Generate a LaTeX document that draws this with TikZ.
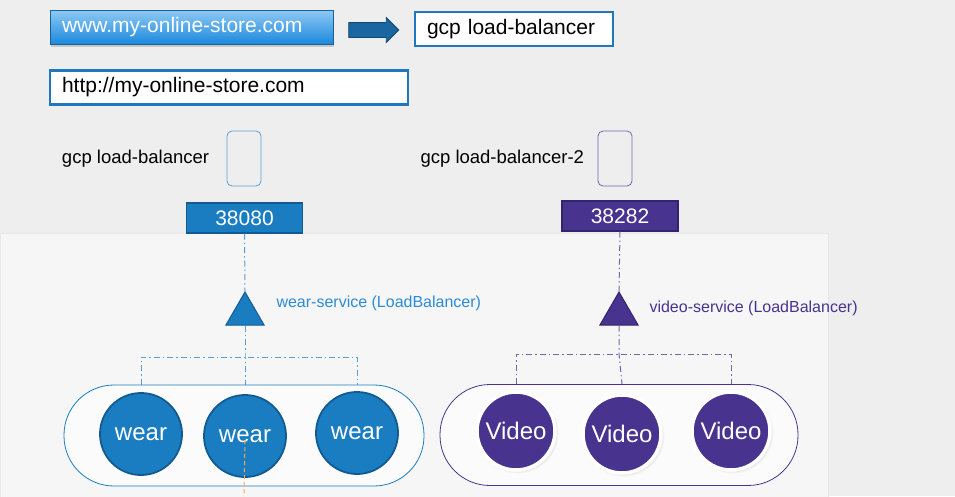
\documentclass[tikz,border=0pt]{standalone}
\usepackage{fontspec}
\setmainfont{Liberation Sans}
\usetikzlibrary{positioning, shapes.geometric, shapes.arrows, shadows}
\definecolor{canvas}{HTML}{EEEEEE}
\definecolor{panelbg}{HTML}{F6F6F6}
\definecolor{urlblue}{HTML}{1F78BD}
\definecolor{gradtop}{HTML}{8CC8F4}
\definecolor{gradbot}{HTML}{1A88DC}
\definecolor{wearblue}{HTML}{1A7DC1}
\definecolor{weardark}{HTML}{125A92}
\definecolor{wearline}{HTML}{5A9FD4}
\definecolor{wearlabel}{HTML}{2C8BD4}
\definecolor{vidpurple}{HTML}{48338F}
\definecolor{viddark}{HTML}{33226E}
\definecolor{vidline}{HTML}{7466B0}
\newcommand{\fs}[1]{\fontsize{#1}{#1}\selectfont}

\begin{document}
\begin{tikzpicture}[
    x=1pt, y=-1pt,
    every node/.style={font=\fs{18.5}},
    url/.style   ={draw=urlblue, line width=2.2pt, fill=white, text=black,
                   font=\fs{21}, inner xsep=12pt, align=left,
                   minimum height=34pt},
    dns/.style   ={url, draw=urlblue!80!black, line width=0.6pt,
                   top color=gradtop, bottom color=gradbot,
                   text=white, drop shadow={opacity=0.35, shadow xshift=1pt, shadow yshift=-2pt}},
    lbbox/.style ={draw, rounded corners=5pt, line width=0.8pt,
                   minimum width=34pt, minimum height=55pt, inner sep=0pt},
    port/.style  ={draw, line width=1.2pt, text=white, font=\fs{21},
                   minimum width=116pt, minimum height=30pt, inner sep=0pt},
    svc/.style   ={draw, regular polygon, regular polygon sides=3,
                   minimum size=44pt, inner sep=0pt, line width=1pt},
    pill/.style  ={draw, line width=0.8pt, fill=white!60!panelbg,
                   rounded corners=50pt, minimum height=101pt},
    wearpod/.style ={circle, fill=wearblue, draw=weardark, line width=1.8pt,
                   minimum size=82pt, inner sep=0pt, text=white, font=\fs{24}},
    videopod/.style={circle, fill=vidpurple, draw=white, line width=3.5pt,
                   minimum size=78pt, inner sep=0pt, text=white, font=\fs{24},
                   circular drop shadow={opacity=0.3, shadow scale=1.05}},
    link/.style  ={line width=1pt, dash pattern=on 6pt off 3pt on 1.5pt off 3pt},
]
\useasboundingbox[fill=canvas] (0,0) rectangle (955,496);
\fill[panelbg, draw=gray!18] (0,233) rectangle (828,497);

\node[dns, text width=259pt] (www) at (191.5,27.5) {www.my-online-store.com};
\node[single arrow, fill=urlblue!85!black, draw=urlblue!60!black, line width=0.8pt,
      minimum height=50pt, inner xsep=0pt, inner ysep=7pt,
      single arrow head extend=5pt] (fwd) at (370,30) {};
\node[url, text width=174pt] (gcp) at (514,29) {gcp load-balancer};
\node[url, text width=334pt] (http) at (229,87.5) {http://my-online-store.com};

\node[lbbox, draw=wearline] (lb1) at (244,158.5) {};
\node[left=14pt of lb1] (lb1txt) {gcp load-balancer};
\node[lbbox, draw=vidline] (lb2) at (615,158.5) {};
\node[left=10pt of lb2] (lb2txt) {gcp load-balancer-2};

\node[port, fill=wearblue, draw=weardark] (p1) at (244.5,218) {38080};
\node[port, fill=vidpurple, draw=viddark] (p2) at (620,216) {38282};

\node[svc, fill=wearblue, draw=weardark] (t1) at (245,314) {};
\node[font=\fs{16}, text=wearlabel, anchor=west] (s1) at (273,303) {wear-service (LoadBalancer)};
\node[svc, fill=vidpurple, draw=viddark] (t2) at (619,314) {};
\node[font=\fs{16}, text=vidpurple, anchor=west] (s2) at (646,308) {video-service (LoadBalancer)};

\node[pill, draw=wearblue, minimum width=360pt] (pods1) at (244,435.5) {};
\node[pill, draw=vidpurple, minimum width=358pt] (pods2) at (619,435) {};

\node[wearpod] (w1) at (141,434) {wear};
\node[wearpod] (w2) at (245,436) {wear};
\node[wearpod] (w3) at (357,433) {wear};
\node[videopod] (v1) at (516,431) {Video};
\node[videopod] (v2) at (622,434) {Video};
\node[videopod] (v3) at (731,431) {Video};

\coordinate (bus1) at (245,357);
\coordinate (bus2) at (619,354);
\coordinate (trace) at (244,496);

% selectors: service fans out to every pod of its kind
\draw[link, wearline] (p1.south) -- (t1.north);
\draw[link, wearline] (t1.south) -- (bus1) -- (w2.north |- pods1.north);
\draw[link, wearline] (w1.north |- pods1.north) -- (w1.north |- bus1)
    -- (w3.north |- bus1) -- (w3.north |- pods1.north);
\draw[link, vidline] (p2.south) -- (t2.north);
\draw[link, vidline] (t2.south) -- (bus2) -- (v2.north |- pods2.north);
\draw[link, vidline] (v1.north |- pods2.north) -- (v1.north |- bus2)
    -- (v3.north |- bus2) -- (v3.north |- pods2.north);
\draw[orange!70, line width=1pt, dash pattern=on 4pt off 3pt] ([yshift=-4pt]w2.center) -- (trace);
\end{tikzpicture}
\end{document}
